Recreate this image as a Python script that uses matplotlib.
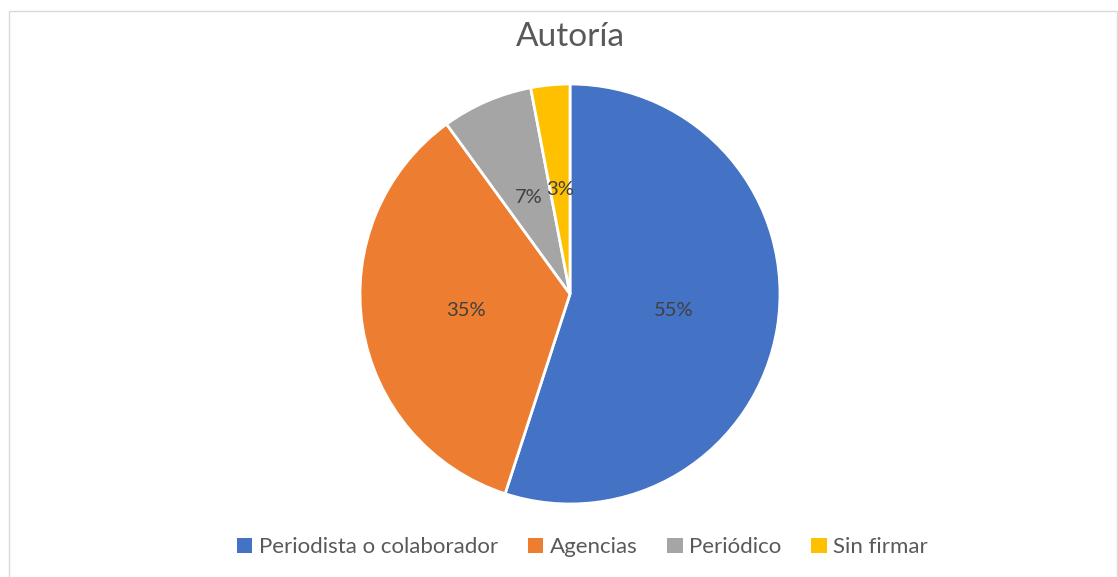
import matplotlib
matplotlib.use("Agg")
import matplotlib.pyplot as plt
from matplotlib.patches import Rectangle, Patch

categories = ["Periodista o colaborador", "Agencias", "Periódico", "Sin firmar"]
values = [55, 35, 7, 3]
colors = ["#4472C4", "#ED7D31", "#A5A5A5", "#FFC000"]
title = "Autoría"

plt.rcParams['font.family'] = ['Lato', 'DejaVu Sans']

W, H = 1118, 577
fig = plt.figure(figsize=(W / 100, H / 100), dpi=100)
fig.patch.set_facecolor("white")

# light frame
fig.add_artist(Rectangle((9 / W, -0.1), (W - 10) / W, 1.1 - 11 / H,
                         transform=fig.transFigure, fill=False,
                         edgecolor="#D9D9D9", linewidth=1.0))

cx, cy, r = 570, 294, 210
ax = fig.add_axes([(cx - r) / W, (H - cy - r) / H, 2 * r / W, 2 * r / H])
wedges, texts, autotexts = ax.pie(
    values, colors=colors, startangle=90, counterclock=False,
    autopct=lambda p: f"{p:.0f}%", pctdistance=0.5,
    wedgeprops=dict(edgecolor="white", linewidth=2),
    textprops=dict(color="#404040", fontsize=14.5))
ax.set_aspect("equal")
ax.set_xlim(-1, 1)
ax.set_ylim(-1, 1)
ax.axis("off")

fig.text(cx / W, 1 - 37 / H, title, ha="center", va="center",
         fontsize=24, color="#595959")

handles = [Patch(facecolor=c, edgecolor="none") for c in colors]
fig.legend(handles, categories, loc="center", bbox_to_anchor=(582.5 / W, 1 - 547 / H),
           ncol=4, frameon=False, fontsize=16, labelcolor="#595959",
           handlelength=0.68, handleheight=0.68, handletextpad=0.3,
           columnspacing=1.35)

fig.savefig("out.png", dpi=100, facecolor="white")
